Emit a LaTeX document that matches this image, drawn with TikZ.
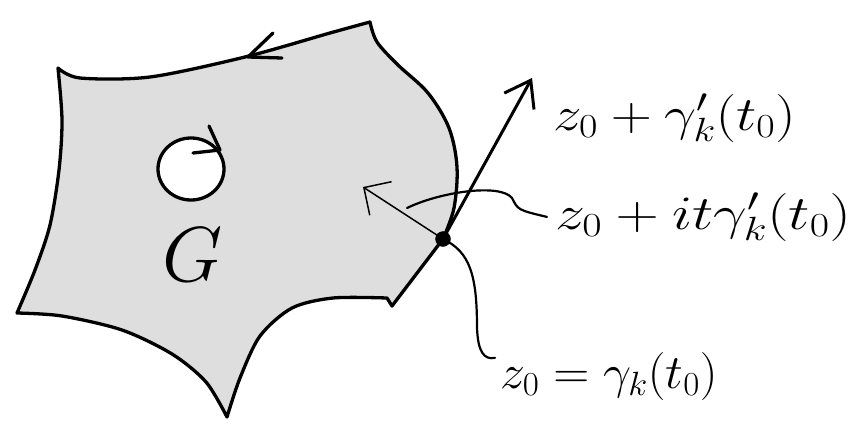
\documentclass[tikz,border=0pt]{standalone}
\usepackage{fix-cm}
\usepackage{amsmath}
\usepackage{graphicx}
\usepackage{tikz}
\usetikzlibrary{calc}
\usetikzlibrary{arrows.meta}
\usetikzlibrary{positioning}
\definecolor{regiongray}{RGB}{222,222,222}
\tikzset{
    edgeline/.style={
        line width=3.3pt,
        black,
        line join=round,
        line cap=round
    },
    % tangent vector
    tanarrow/.style={
        line width=3pt,
        black,
        -{Straight Barb[length=24pt, width=34pt]}
    },
    % inward normal, thinner
    normarrow/.style={
        line width=1.5pt,
        black,
        -{Straight Barb[length=20pt, width=40pt]}
    },
    leaderline/.style={
        line width=2.2pt,
        black,
        line cap=round
    },
    biglabel/.style={
        inner sep=0pt,
        font=\fontsize{48}{56}\selectfont
    }
}

\begin{document}
\begin{tikzpicture}[x=1pt, y=-1pt]
            \useasboundingbox (0,0) rectangle (859,439);

            % region G
            \draw[edgeline, fill=regiongray]
                plot[smooth] coordinates {(58,68) (80,78) (150,77) (245,57) (330,33) (370,22)}
                -- plot[smooth, tension=0.55] coordinates {(370,22) (377,42) (398,65) (428,93) (449,128) (457,167) (454,208) (443,239)}
                -- (392,306) -- (387,298)
                -- plot[smooth] coordinates {(387,298) (333,298) (292,308) (260,336) (240,378) (227,417)}
                -- plot[smooth] coordinates {(227,417) (206,382) (172,354) (122,330) (62,316) (17,313)}
                -- plot[smooth] coordinates {(17,313) (35,270) (50,225) (59,170) (62,120) (58,68)}
                -- cycle;

            % hole
            \draw[edgeline, fill=white] (191,169) ellipse [x radius=33, y radius=31];
            \draw[edgeline] (193,153) -- (220,150) -- (209,126);

            % orientation mark on the top edge
            \draw[edgeline] (273,33) -- (248,57) -- (282,58);

            \node[font=\fontsize{78}{86}\selectfont, inner sep=0pt] (gname) at (193,255) {$G$};

            % point and vectors
            \coordinate (z0) at (443,239);
            \coordinate (ttip) at (532,78);
            \coordinate (ntip) at (363,187);
            \coordinate (nmark) at (407,208);

            \draw[tanarrow] (z0) -- (ttip);
            \draw[normarrow] (z0) -- (ntip);

            %label
            \node[biglabel, anchor=base west] (ltan) at (553,130) {\scalebox{1.19}[1]{$z_0+\gamma_k'(t_0)$}};
            \node[biglabel, anchor=base west] (lnorm) at (555,229) {\scalebox{1.25}[1]{$z_0+it\gamma_k'(t_0)$}};
            \node[biglabel, anchor=base west] (lpoint) at (500,388) {\scalebox{1.04}[1]{$z_0=\gamma_k(t_0)$}};

            \draw[leaderline] (nmark) .. controls (440,192) and (500,183) .. (512,198)
                .. controls (518,210) .. ([xshift=-8pt]lnorm.west);
            \draw[leaderline] (z0) .. controls (470,252) and (477,275) .. (477,328)
                .. controls (478,352) and (484,360) .. ([xshift=-5pt, yshift=-6pt]lpoint.north west);

            \draw[black, fill=black] (z0) circle (7.5);
\end{tikzpicture}
\end{document}
